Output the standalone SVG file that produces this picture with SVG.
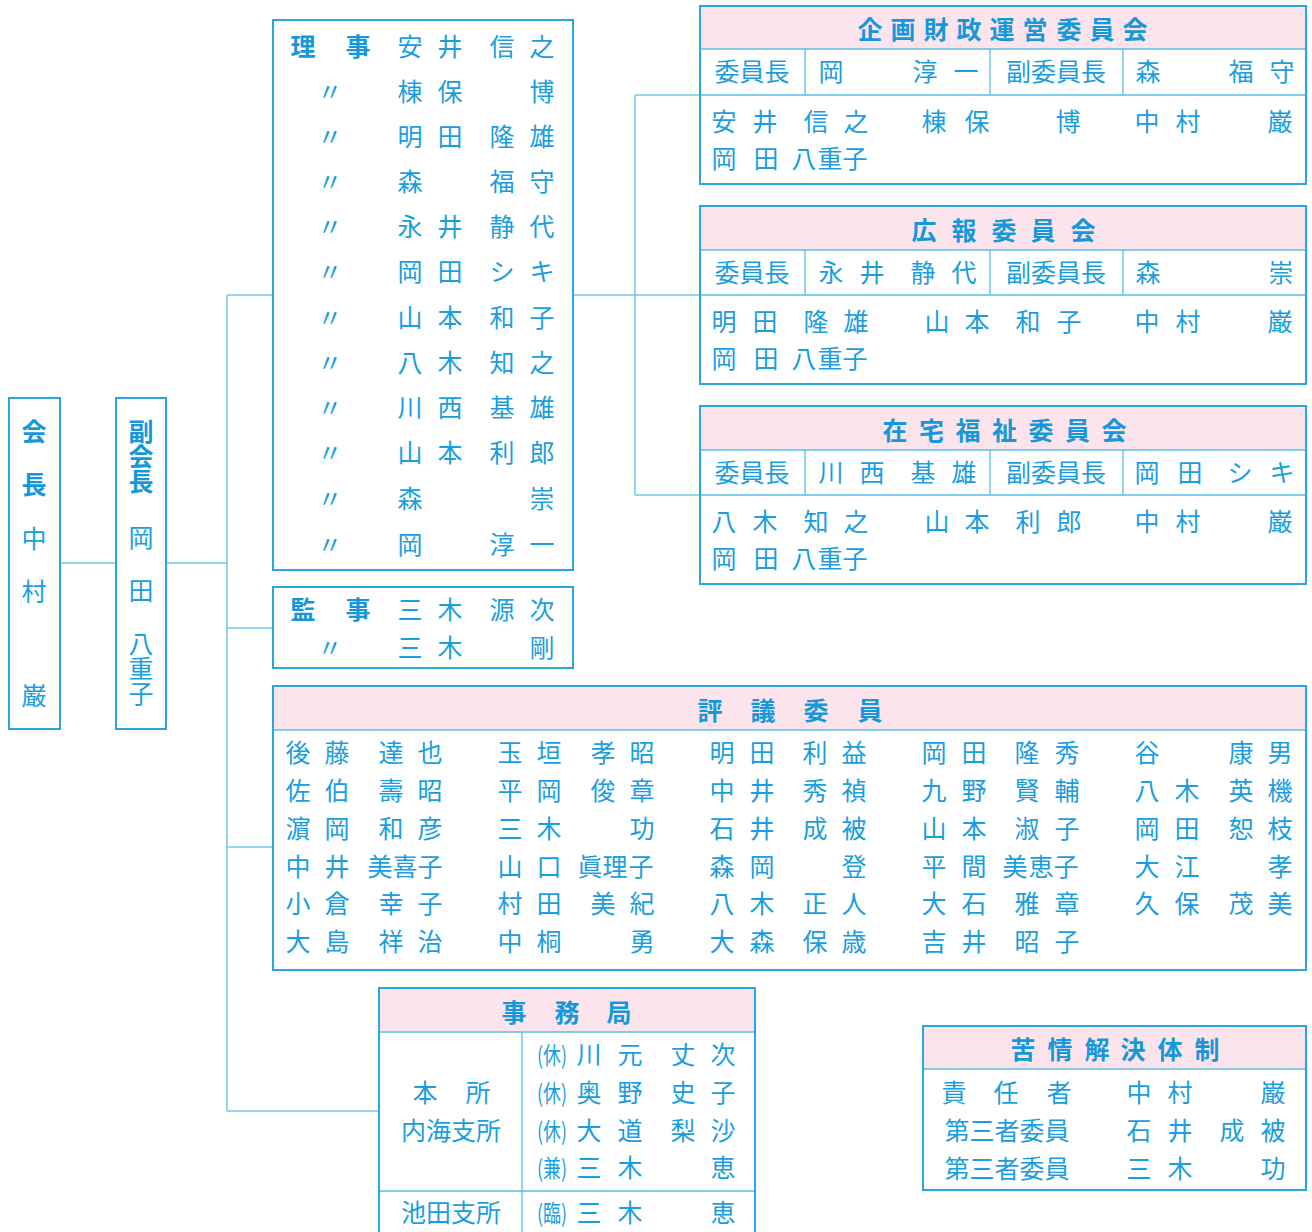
<svg xmlns="http://www.w3.org/2000/svg" width="1312" height="1232" viewBox="0 0 1312 1232">
<style>
.box{fill:none;stroke:#29a6de;stroke-width:2}
.bg{fill:#ffffff}
.hdr{fill:#fce4ec}
.dv{stroke:#5bbde8;stroke-width:1.3;fill:none}
.conn{stroke:#74c8ee;stroke-width:1.5;fill:none}
text{font-family:"Noto Sans CJK JP","Noto Sans CJK SC",sans-serif;font-size:25px;fill:#1a9ee0;text-anchor:middle;dominant-baseline:central}
.b{font-weight:bold;fill:#1598db}
.p{font-size:24px}
.v{writing-mode:vertical-rl;font-size:25px}
</style>
<rect x="0" y="0" width="1312" height="1232" fill="#ffffff"/>
<g id="connectors">
<path class="conn" d="M60 563H115M166 563H227M227 295V1111M227 295H273M227 628H273M227 847H273M227 1111H379M573 295H635M635 95V495M635 95H700M635 295H700M635 495H700"/>
</g>
<g id="chairman">
<rect class="bg" x="9" y="398" width="51" height="331"/>
<rect class="box" x="9" y="398" width="51" height="331"/>
<text class="b" x="34" y="430">会</text>
<text class="b" x="34" y="483">長</text>
<text x="34" y="537">中</text>
<text x="34" y="590">村</text>
<text x="34" y="694">巌</text>
</g>
<g id="vice-chairman">
<rect class="bg" x="116" y="398" width="50" height="331"/>
<rect class="box" x="116" y="398" width="50" height="331"/>
<text class="b v" x="141" y="456">副会長</text>
<text x="141" y="536">岡</text>
<text x="141" y="589">田</text>
<text class="v" x="141" y="668">八重子</text>
</g>
<g id="directors">
<rect class="bg" x="273" y="20" width="300" height="550"/>
<rect class="box" x="273" y="20" width="300" height="550"/>
<text class="b" x="303 330 358" y="45">理　事</text>
<text x="410 450 476 502 542" y="45">安井　信之</text>
<text x="330" y="90">〃</text><text x="410 450 476 542" y="90">棟保　博</text>
<text x="330" y="135">〃</text><text x="410 450 476 502 542" y="135">明田　隆雄</text>
<text x="330" y="180">〃</text><text x="410 450 502 542" y="180">森　福守</text>
<text x="330" y="225">〃</text><text x="410 450 476 502 542" y="225">永井　静代</text>
<text x="330" y="270">〃</text><text x="410 450 476 502 542" y="270">岡田　シキ</text>
<text x="330" y="316">〃</text><text x="410 450 476 502 542" y="316">山本　和子</text>
<text x="330" y="361">〃</text><text x="410 450 476 502 542" y="361">八木　知之</text>
<text x="330" y="406">〃</text><text x="410 450 476 502 542" y="406">川西　基雄</text>
<text x="330" y="451">〃</text><text x="410 450 476 502 542" y="451">山本　利郎</text>
<text x="330" y="497">〃</text><text x="410 476 542" y="497">森　崇</text>
<text x="330" y="543">〃</text><text x="410 476 502 542" y="543">岡　淳一</text>
</g>
<g id="auditors">
<rect class="bg" x="273" y="587" width="300" height="81"/>
<rect class="box" x="273" y="587" width="300" height="81"/>
<text class="b" x="303 330 358" y="608">監　事</text>
<text x="410 450 476 502 542" y="608">三木　源次</text>
<text x="330" y="646">〃</text><text x="410 450 476 542" y="646">三木　剛</text>
</g>
<g id="committee-planning">
<rect class="bg" x="700" y="6" width="606" height="178"/>
<rect class="hdr" x="700" y="6" width="606" height="43"/>
<path class="dv" d="M700 49H1306M700 95H1306M805 49V95M990 49V95M1123 49V95"/>
<rect class="box" x="700" y="6" width="606" height="178"/>
<text class="b" x="870 903 936 969 1002 1035 1069 1102 1135" y="28">企画財政運営委員会</text>
<text x="752" y="70">委員長</text>
<text x="831 878 925 966" y="70">岡　淳一</text>
<text x="1056" y="70">副委員長</text>
<text x="1148 1195 1241 1282" y="70">森　福守</text>
<text x="724 765 790 816 856" y="120">安井　信之</text>
<text x="934 977 1020 1068" y="120">棟保　博</text>
<text x="1147 1188 1230 1280" y="120">中村　巌</text>
<text x="724 766 785 804 830 855" y="157">岡田　八重子</text>
</g>
<g id="committee-pr">
<rect class="bg" x="700" y="206" width="606" height="178"/>
<rect class="hdr" x="700" y="206" width="606" height="44"/>
<path class="dv" d="M700 250H1306M700 295H1306M805 250V295M990 250V295M1123 250V295"/>
<rect class="box" x="700" y="206" width="606" height="178"/>
<text class="b" x="924 964 1004 1043 1083" y="229">広報委員会</text>
<text x="752" y="271">委員長</text>
<text x="831 872 897 923 964" y="271">永井　静代</text>
<text x="1056" y="271">副委員長</text>
<text x="1148 1215 1281" y="271">森　崇</text>
<text x="724 765 790 816 856" y="320">明田　隆雄</text>
<text x="937 977 1003 1028 1069" y="320">山本　和子</text>
<text x="1147 1188 1230 1280" y="320">中村　巌</text>
<text x="724 766 785 804 830 855" y="357">岡田　八重子</text>
</g>
<g id="committee-welfare">
<rect class="bg" x="700" y="406" width="606" height="178"/>
<rect class="hdr" x="700" y="406" width="606" height="44"/>
<path class="dv" d="M700 450H1306M700 495H1306M805 450V495M990 450V495M1123 450V495"/>
<rect class="box" x="700" y="406" width="606" height="178"/>
<text class="b" x="895 931.5 968 1004.5 1041 1077.5 1114" y="429">在宅福祉委員会</text>
<text x="752" y="471">委員長</text>
<text x="831 872 897 923 964" y="471">川西　基雄</text>
<text x="1056" y="471">副委員長</text>
<text x="1147 1190 1215 1240 1282" y="471">岡田　シキ</text>
<text x="724 765 790 816 856" y="520">八木　知之</text>
<text x="937 977 1003 1028 1069" y="520">山本　利郎</text>
<text x="1147 1188 1230 1280" y="520">中村　巌</text>
<text x="724 766 785 804 830 855" y="557">岡田　八重子</text>
</g>
<g id="councillors">
<rect class="bg" x="273" y="686" width="1033" height="284"/>
<rect class="hdr" x="273" y="686" width="1033" height="44"/>
<path class="dv" d="M273 730H1306"/>
<rect class="box" x="273" y="686" width="1033" height="284"/>
<text class="b" x="710 736 763 790 816 843 870" y="709">評　議　委　員</text>
<text x="298 337 364 391 430" y="751">後藤　達也</text>
<text x="510 549 576 603 642" y="751">玉垣　孝昭</text>
<text x="722 762 788 815 854" y="751">明田　利益</text>
<text x="934 974 1000 1027 1067" y="751">岡田　隆秀</text>
<text x="1147 1194 1241 1280" y="751">谷　康男</text>
<text x="298 337 364 391 430" y="789">佐伯　壽昭</text>
<text x="510 549 576 603 642" y="789">平岡　俊章</text>
<text x="722 762 788 815 854" y="789">中井　秀禎</text>
<text x="934 974 1000 1027 1067" y="789">九野　賢輔</text>
<text x="1147 1187 1214 1241 1280" y="789">八木　英機</text>
<text x="298 337 364 391 430" y="827">濵岡　和彦</text>
<text x="510 549 596 642" y="827">三木　功</text>
<text x="722 762 788 815 854" y="827">石井　成被</text>
<text x="934 974 1000 1027 1067" y="827">山本　淑子</text>
<text x="1147 1187 1214 1241 1280" y="827">岡田　恕枝</text>
<text x="298 337 358 380 405 430" y="865">中井　美喜子</text>
<text x="510 549 570 590 615 641" y="865">山口　眞理子</text>
<text x="722 762 808 854" y="865">森岡　登</text>
<text x="934 974 995 1015 1041 1066" y="865">平間　美恵子</text>
<text x="1147 1187 1234 1280" y="865">大江　孝</text>
<text x="298 337 364 391 430" y="902">小倉　幸子</text>
<text x="510 549 576 603 642" y="902">村田　美紀</text>
<text x="722 762 788 815 854" y="902">八木　正人</text>
<text x="934 974 1000 1027 1067" y="902">大石　雅章</text>
<text x="1147 1187 1214 1241 1280" y="902">久保　茂美</text>
<text x="298 337 364 391 430" y="940">大島　祥治</text>
<text x="510 549 596 642" y="940">中桐　勇</text>
<text x="722 762 788 815 854" y="940">大森　保歳</text>
<text x="934 974 1000 1027 1067" y="940">吉井　昭子</text>
</g>
<g id="secretariat">
<rect class="bg" x="379" y="988" width="376" height="260"/>
<rect class="hdr" x="379" y="988" width="376" height="44"/>
<path class="dv" d="M379 1032H755M522 1032V1240M379 1191H755"/>
<rect class="box" x="379" y="988" width="376" height="260"/>
<text class="b" x="514 540 567 593 619" y="1011">事　務　局</text>
<text x="425 451 478" y="1091">本　所</text>
<text x="451" y="1129">内海支所</text>
<text x="451" y="1211">池田支所</text>
<text class="p" x="552" y="1053" textLength="30" lengthAdjust="spacingAndGlyphs">(休)</text>
<text x="589 630 656 683 723" y="1053">川元　丈次</text>
<text class="p" x="552" y="1091" textLength="30" lengthAdjust="spacingAndGlyphs">(休)</text>
<text x="589 630 656 683 723" y="1091">奥野　史子</text>
<text class="p" x="552" y="1129" textLength="30" lengthAdjust="spacingAndGlyphs">(休)</text>
<text x="589 630 656 683 723" y="1129">大道　梨沙</text>
<text class="p" x="552" y="1166" textLength="30" lengthAdjust="spacingAndGlyphs">(兼)</text>
<text x="589 630 676 723" y="1166">三木　恵</text>
<text class="p" x="552" y="1211" textLength="30" lengthAdjust="spacingAndGlyphs">(臨)</text>
<text x="589 630 676 723" y="1211">三木　恵</text>
</g>
<g id="complaints">
<rect class="bg" x="923" y="1026" width="383" height="164"/>
<rect class="hdr" x="923" y="1026" width="383" height="43"/>
<path class="dv" d="M923 1069H1306"/>
<rect class="box" x="923" y="1026" width="383" height="164"/>
<text class="b" x="1023 1060 1097 1133 1170 1207" y="1048">苦情解決体制</text>
<text x="954 980 1006 1032 1059" y="1091">責　任　者</text>
<text x="1139 1180 1226 1273" y="1091">中村　巌</text>
<text x="1007" y="1129">第三者委員</text>
<text x="1139 1180 1206 1232 1273" y="1129">石井　成被</text>
<text x="1007" y="1167">第三者委員</text>
<text x="1139 1180 1226 1273" y="1167">三木　功</text>
</g>
</svg>
